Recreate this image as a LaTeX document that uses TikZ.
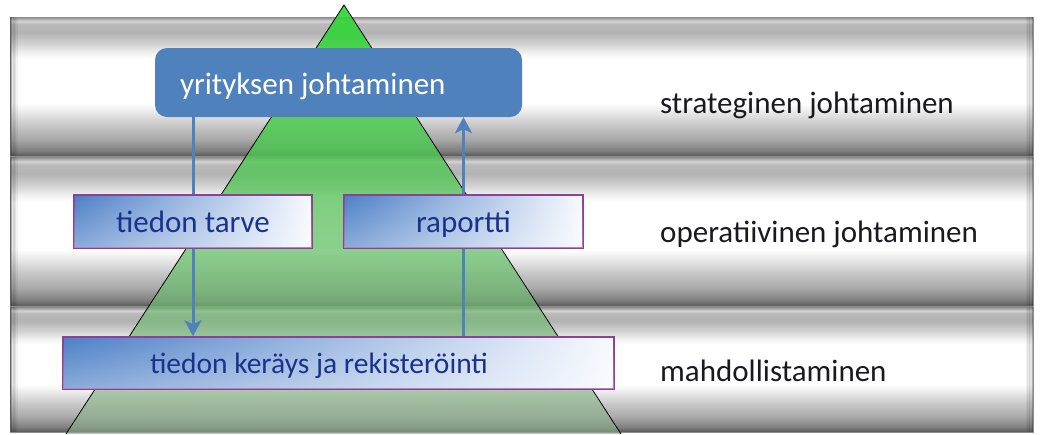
\documentclass[tikz,border=0pt]{standalone}
\usepackage{fontspec}
\setmainfont{Carlito}
\usetikzlibrary{arrows.meta,fadings}

\definecolor{steel}{RGB}{79,129,189}
\definecolor{boxtop}{rgb}{0.30,0.50,0.78}
\definecolor{boxmid}{rgb}{0.74,0.81,0.93}
\definecolor{boxend}{rgb}{0.97,0.98,1.00}
\definecolor{frame}{rgb}{0.55,0.25,0.60}
\definecolor{ink}{rgb}{0.10,0.20,0.55}
\definecolor{labelink}{rgb}{0.10,0.10,0.12}
\definecolor{pyrtop}{rgb}{0.18,0.84,0.20}
\definecolor{pyrmid}{rgb}{0.40,0.81,0.40}
\definecolor{pyrbot}{rgb}{0.55,0.68,0.55}

% metallic band: dark rims, white centre
\pgfdeclareverticalshading{bandshade}{100bp}{%
  rgb(0bp)=(.35,.35,.35); rgb(25bp)=(.35,.35,.35);
  rgb(27bp)=(.50,.50,.50); rgb(31bp)=(.66,.66,.66);
  rgb(36bp)=(.78,.78,.78); rgb(41bp)=(.92,.92,.92);
  rgb(44bp)=(1,1,1); rgb(60bp)=(1,1,1);
  rgb(62bp)=(.95,.95,.95); rgb(65.5bp)=(.82,.82,.82);
  rgb(69.5bp)=(.70,.70,.70); rgb(72.5bp)=(.73,.73,.73);
  rgb(73.5bp)=(.83,.83,.83); rgb(75bp)=(.55,.55,.55);
  rgb(100bp)=(.55,.55,.55)}

% pyramid: nearly opaque at the top, see-through near the base
\tikzfading[name=pyrfade, top color=transparent!8, bottom color=transparent!40]
% sheen on the lower half of the boxes
\tikzfading[name=lowsheen, top color=transparent!100, bottom color=transparent!0]

\pgfdeclarelayer{bg}
\pgfdeclarelayer{links}
\pgfsetlayers{bg,links,main}

\tikzset{
  band/.style={shading=bandshade, draw=black!45, line width=0.6pt},
  lead/.style={fill=steel, rounded corners=12pt, text=white,
    minimum height=69pt, text width=317pt, inner xsep=25pt, align=flush left,
    text height=23pt, text depth=0pt},
  need/.style={draw=frame, line width=1.5pt,
    left color=boxtop, middle color=boxmid, right color=boxend,
    postaction={fill=white, fill opacity=0.35, path fading=lowsheen},
    text=ink, minimum height=53pt, text height=21pt, text depth=0pt},
  level/.style={anchor=base west, inner sep=0pt, text=labelink},
  flow/.style={draw=steel, line width=3pt,
    -{Stealth[length=16pt, width=17pt, inset=4pt]}},
}

\newcommand{\bandbox}[2]{%
  \shade[band] (10,#1) rectangle (1033,#2);
  \foreach \d/\o in {0/0.30,1.5/0.10,3/0.16,4.5/0.10,6/0.05}{
    \fill[black, fill opacity=\o] (10+\d,#1) rectangle (11.5+\d,#2);
    \fill[black, fill opacity=\o] (1033-\d,#1) rectangle (1031.5-\d,#2);
  }%
}

\begin{document}
\begin{tikzpicture}[x=1pt, y=-1pt, font=\fontsize{31}{37}\selectfont]
  \useasboundingbox (0,0) rectangle (1040,434);

  \begin{pgfonlayer}{bg}
    \fill[white] (0,0) rectangle (1040,434);
    % three levels
    \bandbox{17}{156}
    \bandbox{157}{306}
    \bandbox{307}{432}
    % pyramid
    \coordinate (apex) at (344,5);
    \coordinate (baseR) at (621,434);
    \coordinate (baseL) at (66,434);
    \shade[top color=pyrtop, middle color=pyrmid, bottom color=pyrbot,
      path fading=pyrfade]
      (apex) -- (baseR) -- (baseL) -- cycle;
    \draw[black, line width=0.8pt] (baseL) -- (apex) -- (baseR);
  \end{pgfonlayer}

  % boxes
  \node[lead] (yj) at (338.5,82.5) {yrityksen johtaminen};
  \node[need, minimum width=238pt] (tt) at (193,221.5) {tiedon tarve};
  \node[need, minimum width=239pt] (rap) at (463.5,221.5) {raportti};
  \node[need, minimum height=52pt, text width=377pt, inner xsep=87pt, align=flush left,
    font=\fontsize{29.5}{35}\selectfont]
    (ker) at (338.5,363) {tiedon keräys ja rekisteröinti};

  % level labels
  \node[level] (l1) at (660,113) {strateginen johtaminen};
  \node[level] (l2) at (660,242) {operatiivinen johtaminen};
  \node[level] (l3) at (660,381) {mahdollistaminen};

  % information flow
  \begin{pgfonlayer}{links}
    \draw[flow] (tt.center |- yj.south) -- (tt.center |- ker.north);
    \draw[flow] (rap.center |- ker.north) -- (rap.center |- yj.south);
  \end{pgfonlayer}
\end{tikzpicture}
\end{document}
